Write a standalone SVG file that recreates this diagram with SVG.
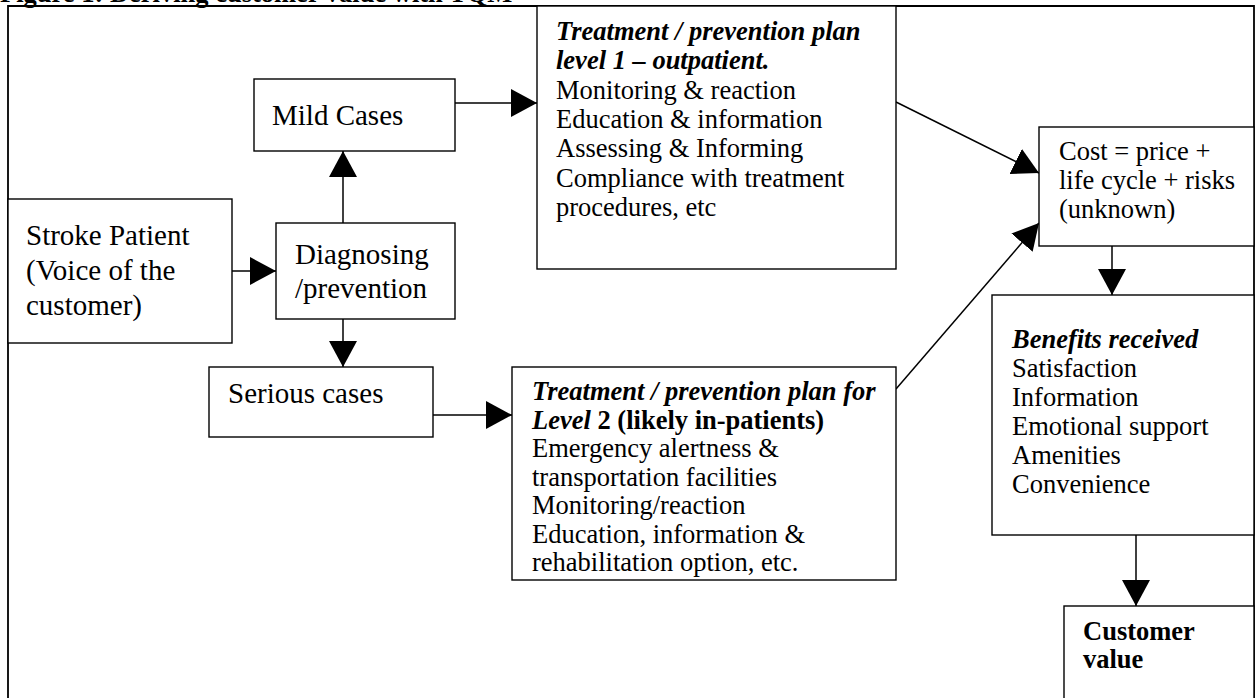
<svg xmlns="http://www.w3.org/2000/svg" width="1256" height="698" viewBox="0 0 1256 698">
  <style>
    .box { fill: #fff; stroke: #000; stroke-width: 1.4; }
    .frame { fill: none; stroke: #000; stroke-width: 1.8; }
    .t { font-family: "Liberation Serif", "Times New Roman", serif; fill: #000; }
    .big { font-size: 29px; }
    .txt { font-size: 26.5px; }
    .bi { font-weight: bold; font-style: italic; }
    .b { font-weight: bold; }
    .conn line { stroke: #000; stroke-width: 1.5; marker-end: url(#head); }
  </style>
  <defs>
    <marker id="head" markerUnits="userSpaceOnUse" markerWidth="26" markerHeight="28" refX="26" refY="14" orient="auto">
      <path d="M0,0 L26,14 L0,28 z" fill="#000"/>
    </marker>
  </defs>

  <rect width="1256" height="698" fill="#fff"/>

  <!-- caption, cut at the top edge -->
  <text class="t txt b" x="0" y="1.5">Figure 1: Deriving customer value with TQM</text>

  <!-- outer frame, open at the bottom -->
  <path class="frame" d="M8,710 L8,6 L1254,6 L1254,710"/>

  <g id="connectors" class="conn">
    <line x1="232" y1="271" x2="276" y2="271"/>
    <line x1="343" y1="223" x2="343" y2="151"/>
    <line x1="343" y1="319" x2="343" y2="367"/>
    <line x1="455" y1="103" x2="537" y2="103"/>
    <line x1="433" y1="415" x2="512" y2="415"/>
    <line x1="896" y1="102" x2="1039" y2="173"/>
    <line x1="896" y1="389" x2="1039" y2="223"/>
    <line x1="1112" y1="246" x2="1112" y2="295"/>
    <line x1="1136" y1="535" x2="1136" y2="606"/>
  </g>

  <g id="stroke-patient">
    <rect class="box" x="8" y="199" width="224" height="144"/>
    <text class="t big" x="26" y="245">Stroke Patient</text>
    <text class="t big" x="26" y="280">(Voice of the</text>
    <text class="t big" x="26" y="315">customer)</text>
  </g>

  <g id="diagnosing">
    <rect class="box" x="276" y="223" width="179" height="96"/>
    <text class="t big" x="295" y="264">Diagnosing</text>
    <text class="t big" x="295" y="298">/prevention</text>
  </g>

  <g id="mild-cases">
    <rect class="box" x="254" y="79" width="201" height="72"/>
    <text class="t big" x="272" y="125">Mild Cases</text>
  </g>

  <g id="serious-cases">
    <rect class="box" x="209" y="367" width="224" height="70"/>
    <text class="t big" x="228" y="403">Serious cases</text>
  </g>

  <g id="plan-level-1">
    <rect class="box" x="537" y="6" width="359" height="263"/>
    <text class="t txt bi" x="556" y="40">Treatment / prevention plan</text>
    <text class="t txt bi" x="556" y="69.3">level 1 – outpatient.</text>
    <text class="t txt" x="556" y="98.6">Monitoring &amp; reaction</text>
    <text class="t txt" x="556" y="127.9">Education &amp; information</text>
    <text class="t txt" x="556" y="157.2">Assessing &amp; Informing</text>
    <text class="t txt" x="556" y="186.5">Compliance with treatment</text>
    <text class="t txt" x="556" y="215.8">procedures, etc</text>
  </g>

  <g id="plan-level-2">
    <rect class="box" x="512" y="367" width="384" height="213"/>
    <text class="t txt bi" x="532" y="400">Treatment / prevention plan for</text>
    <text class="t txt b" x="532" y="428.5"><tspan font-style="italic">Level</tspan> 2 (likely in-patients)</text>
    <text class="t txt" x="532" y="457">Emergency alertness &amp;</text>
    <text class="t txt" x="532" y="485.5">transportation facilities</text>
    <text class="t txt" x="532" y="514">Monitoring/reaction</text>
    <text class="t txt" x="532" y="542.5">Education, information &amp;</text>
    <text class="t txt" x="532" y="571">rehabilitation option, etc.</text>
  </g>

  <g id="cost">
    <rect class="box" x="1039" y="127" width="215" height="119"/>
    <text class="t txt" x="1059" y="160">Cost = price +</text>
    <text class="t txt" x="1059" y="189">life cycle + risks</text>
    <text class="t txt" x="1059" y="218">(unknown)</text>
  </g>

  <g id="benefits">
    <rect class="box" x="992" y="295" width="262" height="240"/>
    <text class="t txt bi" x="1012" y="348">Benefits received</text>
    <text class="t txt" x="1012" y="377">Satisfaction</text>
    <text class="t txt" x="1012" y="406">Information</text>
    <text class="t txt" x="1012" y="435">Emotional support</text>
    <text class="t txt" x="1012" y="464">Amenities</text>
    <text class="t txt" x="1012" y="493">Convenience</text>
  </g>

  <g id="customer-value">
    <rect class="box" x="1064" y="606" width="190" height="110"/>
    <text class="t txt b" x="1083" y="640">Customer</text>
    <text class="t txt b" x="1083" y="668">value</text>
  </g>
</svg>
